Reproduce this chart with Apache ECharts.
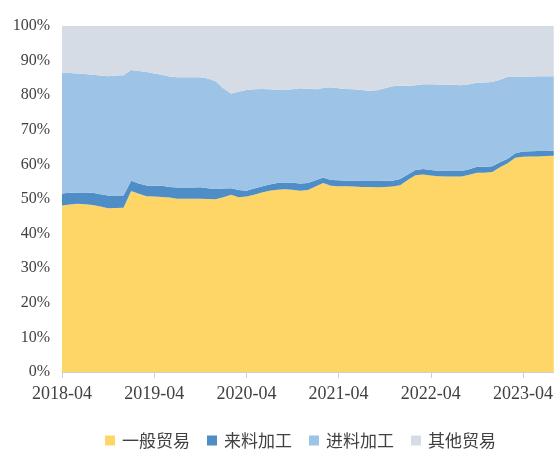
<!DOCTYPE html>
<html>
<head>
<meta charset="utf-8">
<script src="https://cdn.jsdelivr.net/npm/echarts@6/dist/echarts.min.js"></script>
<style>
  html, body { margin: 0; padding: 0; background: #fff; }
  #chart { width: 556px; height: 452px; }
</style>
</head>
<body>
<div id="chart"></div>
<script>
// 月份 2018-04 ~ 2023-08
const months = []
for (let y = 2018; y <= 2023; y++) {
  for (let m = 1; m <= 12; m++) {
    if (y === 2018 && m < 4) continue
    if (y === 2023 && m > 8) continue
    months.push(y + '-' + String(m).padStart(2, '0'))
  }
}

// 各贸易方式占比（%）
const generalTrade = [
  48.1, 48.4, 48.6, 48.5, 48.3, 47.8, 47.3, 47.4, 47.5, 52.3,
  51.5, 50.8, 50.7, 50.6, 50.4, 50.1, 50.1, 50.1, 50.1, 50.0,
  49.9, 50.5, 51.2, 50.5, 50.7, 51.2, 51.9, 52.4, 52.7, 52.8,
  52.7, 52.4, 52.6, 53.6, 54.6, 53.8, 53.7, 53.7, 53.6, 53.5,
  53.5, 53.4, 53.5, 53.6, 54.0, 55.5, 56.9, 57.1, 56.8, 56.6,
  56.5, 56.5, 56.5, 57.0, 57.6, 57.6, 57.8, 59.2, 60.3, 61.9,
  62.2, 62.3, 62.3, 62.4, 62.5
]
const processingSupplied = [
  3.5, 3.4, 3.3, 3.4, 3.5, 3.6, 3.7, 3.6, 3.5, 3.0,
  3.0, 3.1, 3.1, 3.2, 3.1, 3.2, 3.2, 3.2, 3.3, 3.1,
  3.0, 2.5, 1.9, 2.1, 1.7, 1.8, 1.7, 1.8, 1.9, 2.0,
  2.0, 2.1, 2.0, 1.8, 1.6, 1.7, 1.7, 1.6, 1.7, 1.7,
  1.7, 1.8, 1.8, 1.7, 1.8, 1.6, 1.5, 1.6, 1.6, 1.6,
  1.6, 1.6, 1.6, 1.6, 1.7, 1.7, 1.7, 1.4, 1.3, 1.3,
  1.5, 1.5, 1.6, 1.5, 1.5
]
const processingImported = [
  34.9, 34.6, 34.4, 34.2, 34.1, 34.3, 34.5, 34.7, 34.8, 32.0,
  32.5, 32.8, 32.5, 32.1, 31.9, 31.9, 31.9, 31.9, 31.8, 31.7,
  31.1, 29.0, 27.4, 28.4, 29.1, 28.7, 28.2, 27.5, 27.0, 26.7,
  27.0, 27.5, 27.3, 26.3, 25.9, 26.8, 26.6, 26.5, 26.4, 26.3,
  26.1, 26.2, 26.7, 27.3, 26.9, 25.6, 24.5, 24.5, 24.8, 24.9,
  25.0, 24.9, 24.8, 24.6, 24.3, 24.4, 24.3, 23.9, 23.7, 22.2,
  21.7, 21.6, 21.6, 21.6, 21.5
]
const otherTrade = [
  13.5, 13.6, 13.7, 13.9, 14.1, 14.3, 14.5, 14.3, 14.2, 12.7,
  13.0, 13.3, 13.7, 14.1, 14.6, 14.8, 14.8, 14.8, 14.8, 15.2,
  16.0, 18.0, 19.5, 19.0, 18.5, 18.3, 18.2, 18.3, 18.4, 18.5,
  18.3, 18.0, 18.1, 18.3, 17.9, 17.7, 18.0, 18.2, 18.3, 18.5,
  18.7, 18.6, 18.0, 17.4, 17.3, 17.3, 17.1, 16.8, 16.8, 16.9,
  16.9, 17.0, 17.1, 16.8, 16.4, 16.3, 16.2, 15.5, 14.7, 14.6,
  14.6, 14.6, 14.5, 14.5, 14.5
]

const seriesNames = ['一般贸易', '来料加工', '进料加工', '其他贸易']
const seriesColors = ['#fdd667', '#4f8dc6', '#9dc3e6', '#d6dce5']
const seriesData = [generalTrade, processingSupplied, processingImported, otherTrade]

const textColor = '#404040'
const numFont = '"Liberation Serif", "DejaVu Serif", serif'

const chart = echarts.init(document.getElementById('chart'))

chart.setOption({
  animation: false,
  grid: {
    left: 62,
    right: 0,
    top: 26,
    bottom: 80
  },
  legend: {
    data: seriesNames,
    top: 427,
    left: 100,
    icon: 'rect',
    itemWidth: 10,
    itemHeight: 10,
    itemGap: 17,
    textStyle: {
      color: textColor,
      fontSize: 17,
      fontFamily: '"Noto Sans CJK SC", sans-serif',
      padding: [0, 0, 0, 2]
    }
  },
  xAxis: {
    type: 'category',
    data: months,
    boundaryGap: false,
    axisLine: { lineStyle: { color: '#d0d0d0', width: 1 } },
    axisTick: {
      length: 6,
      lineStyle: { color: '#d0d0d0' },
      interval: (idx) => idx % 12 === 0
    },
    axisLabel: {
      interval: (idx) => idx % 12 === 0,
      color: textColor,
      fontSize: 18,
      fontFamily: numFont,
      margin: 13
    }
  },
  yAxis: {
    type: 'value',
    min: 0,
    max: 100,
    interval: 10,
    axisLine: { show: false },
    axisTick: { show: false },
    splitLine: { show: false },
    axisLabel: {
      formatter: '{value}%',
      color: textColor,
      fontSize: 16,
      fontFamily: numFont,
      margin: 12
    }
  },
  series: seriesNames.map((name, i) => ({
    name,
    type: 'line',
    stack: 'total',
    data: seriesData[i],
    symbol: 'none',
    lineStyle: { width: 0 },
    itemStyle: { color: seriesColors[i] },
    areaStyle: { color: seriesColors[i], opacity: 1 }
  }))
})
</script>
</body>
</html>
